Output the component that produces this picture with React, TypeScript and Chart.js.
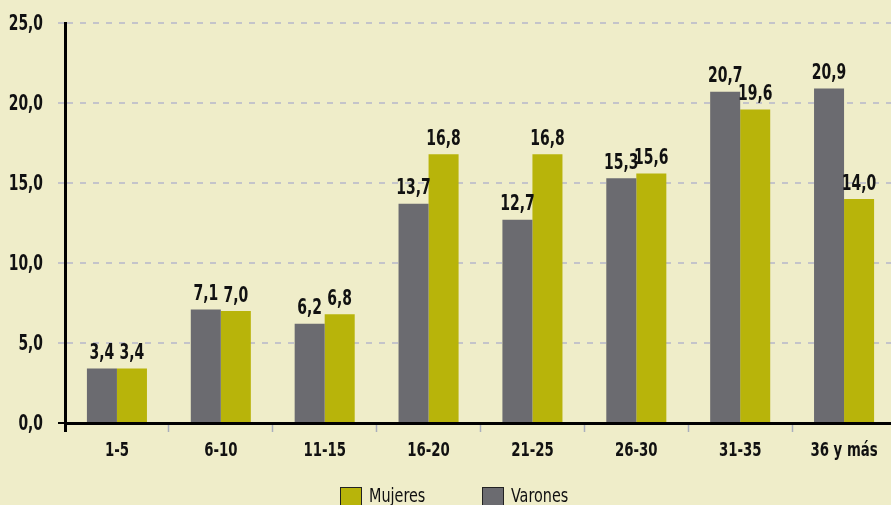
import React, { useEffect, useRef } from "react";
import { Chart, registerables } from "chart.js";

Chart.register(...registerables);

const categories = ["1-5", "6-10", "11-15", "16-20", "21-25", "26-30", "31-35", "36 y más"];
const varones = [3.4, 7.1, 6.2, 13.7, 12.7, 15.3, 20.7, 20.9];
const mujeres = [3.4, 7.0, 6.8, 16.8, 16.8, 15.6, 19.6, 14.0];
const seriesNames = ["Varones", "Mujeres"];
const yTicks = [0, 5, 10, 15, 20, 25];

const BG = "#efedc9";
const GRAY = "#6b6b70";
const YELLOW = "#b8b40a";
const FONT = "'DejaVu Sans Condensed', 'DejaVu Sans', sans-serif";

const fmt = (v: number) => v.toFixed(1).replace(".", ",");

function drawText(ctx: any, text: string, x: number, y: number, size: number, bold: boolean, align: string, sx: number) {
  ctx.save();
  ctx.font = `${bold ? "bold " : ""}${size}px ${FONT}`;
  ctx.textAlign = align;
  ctx.textBaseline = "alphabetic";
  ctx.translate(x, y);
  ctx.scale(sx, 1);
  ctx.fillText(text, 0, 0);
  ctx.restore();
}

const bgPlugin = {
  id: "bg",
  beforeDraw(chart: any) {
    const { ctx, width, height } = chart;
    ctx.save();
    ctx.fillStyle = BG;
    ctx.fillRect(0, 0, width, height);
    ctx.restore();
  },
};

const textPlugin = {
  id: "texts",
  afterDraw(chart: any) {
    const { ctx } = chart;
    ctx.save();
    ctx.fillStyle = "#111";
    chart.data.datasets.forEach((ds: any, i: number) => {
      const meta = chart.getDatasetMeta(i);
      meta.data.forEach((bar: any, j: number) => {
        drawText(ctx, fmt(ds.data[j]), bar.x, bar.y - 9.5, 21, true, "center", 0.74);
      });
    });
    const ys = chart.scales.y;
    yTicks.forEach((v) => {
      drawText(ctx, fmt(v), 43, ys.getPixelForValue(v) + 6.5, 22, true, "right", 0.7);
    });
    const xs = chart.scales.x;
    categories.forEach((c, i) => {
      drawText(ctx, c, xs.getPixelForValue(i), 456, 20, true, "center", 0.74);
    });
    const items = [
      { label: seriesNames[1], color: YELLOW, x: 340 },
      { label: seriesNames[0], color: GRAY, x: 482 },
    ];
    items.forEach((it) => {
      ctx.fillStyle = it.color;
      ctx.fillRect(it.x, 487, 22, 20);
      ctx.strokeStyle = "#222";
      ctx.lineWidth = 1;
      ctx.strokeRect(it.x + 0.5, 487.5, 21, 20);
      ctx.fillStyle = "#111";
      drawText(ctx, it.label, it.x + 29, 502, 20, false, "left", 0.8);
    });
    ctx.restore();
  },
};

export default function App() {
  const ref = useRef<HTMLCanvasElement>(null);
  useEffect(() => {
    document.body.style.margin = "0";
    const chart = new Chart(ref.current!, {
      type: "bar",
      data: {
        labels: categories,
        datasets: [
          { label: seriesNames[0], data: varones, backgroundColor: GRAY },
          { label: seriesNames[1], data: mujeres, backgroundColor: YELLOW },
        ],
      },
      options: {
        animation: false,
        responsive: false,
        maintainAspectRatio: false,
        datasets: { bar: { categoryPercentage: 0.578, barPercentage: 1 } },
        layout: { padding: { top: 23, left: 0, right: 0, bottom: 0 } },
        plugins: { legend: { display: false }, tooltip: { enabled: false } },
        scales: {
          x: {
            afterFit: (s: any) => { s.height = 82; },
            border: { color: "#000", width: 3 },
            grid: {
              offset: true,
              drawOnChartArea: false,
              drawTicks: true,
              tickLength: 9,
              tickColor: (c: any) => (c.index === 0 ? "#000" : "#a9afbd"),
              tickWidth: (c: any) => (c.index === 0 ? 3 : 1.5),
            },
            ticks: { display: false },
          },
          y: {
            min: 0,
            max: 25,
            afterFit: (s: any) => { s.width = 65; },
            border: { color: "#000", width: 3, dash: [6, 7] },
            grid: {
              color: (c: any) => (c.tick && c.tick.value === 0 ? "#000" : "#c4c4ca"),
              lineWidth: 2,
              tickBorderDash: [6, 7],
              tickLength: 7,
            },
            ticks: { stepSize: 5, display: false },
          },
        },
      },
      plugins: [bgPlugin, textPlugin],
    } as any);
    return () => chart.destroy();
  }, []);
  return (
    <div style={{ width: 891, height: 505, background: BG, overflow: "hidden" }}>
      <canvas ref={ref} width={896} height={505} style={{ display: "block" }} />
    </div>
  );
}
